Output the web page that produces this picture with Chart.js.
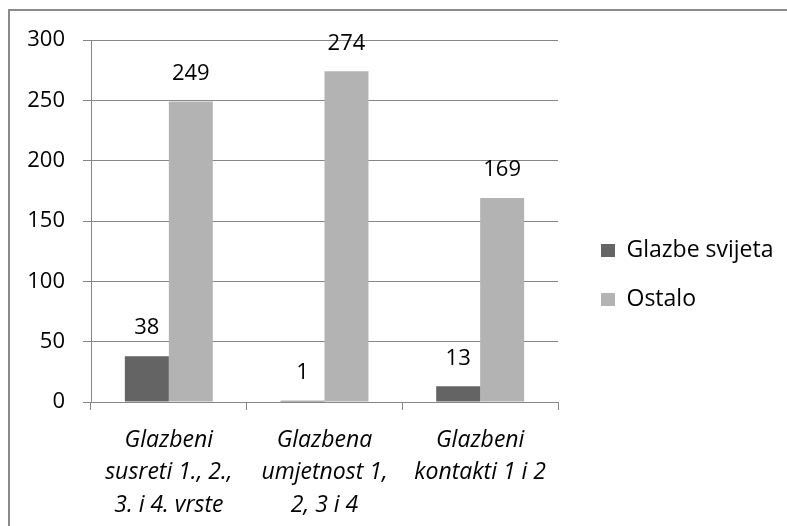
<!DOCTYPE html>
<html>
<head>
<meta charset="utf-8">
<script src="https://cdn.jsdelivr.net/npm/chart.js@4.4.3/dist/chart.umd.min.js"></script>
<style>
  html, body { margin: 0; padding: 0; background: #fff; overflow: hidden; }
  #box {
    position: absolute; left: 8px; top: 9px;
    width: 777px; height: 515px;
    border-top: 2px solid #8a8a8a;
    border-left: 2px solid #8a8a8a;
  }
</style>
</head>
<body>
<div id="box"><canvas id="chart"></canvas></div>
<script>
// categories (multi-line, as in the original)
const categories = [
    ["Glazbeni", "susreti 1., 2.,", "3. i 4. vrste"],
    ["Glazbena", "umjetnost 1,", "2, 3 i 4"],
    ["Glazbeni", "kontakti 1 i 2"]
];
const glazbeSvijeta = [38, 1, 13];
const ostalo = [249, 274, 169];
const yTicks = [0, 50, 100, 150, 200, 250, 300];

const FONT = "'Open Sans', sans-serif";
const gridColor = "#868686";

// draws the value above each bar
const valueLabels = {
    id: 'valueLabels',
    afterDatasetsDraw(chart) {
        const ctx = chart.ctx;
        ctx.save();
        ctx.font = "22px " + FONT;
        ctx.fillStyle = "#000";
        ctx.textAlign = "center";
        ctx.textBaseline = "middle";
        chart.data.datasets.forEach((ds, i) => {
            chart.getDatasetMeta(i).data.forEach((bar, j) => {
                ctx.fillText(String(ds.data[j]), bar.x, bar.y - 28);
            });
        });
        ctx.restore();
    }
};

new Chart(document.getElementById('chart'), {
    type: 'bar',
    data: {
        labels: categories,
        datasets: [
            {
                label: 'Glazbe svijeta',
                data: glazbeSvijeta,
                backgroundColor: "#646464"
            },
            {
                label: 'Ostalo',
                data: ostalo,
                backgroundColor: "#b3b3b3"
            }
        ]
    },
    options: {
        responsive: true,
        maintainAspectRatio: false,
        animation: false,
        datasets: {
            bar: { categoryPercentage: 0.565, barPercentage: 1 }
        },
        layout: {
            padding: { left: 17, top: 29, right: 12, bottom: 0 }
        },
        plugins: {
            tooltip: { enabled: false },
            legend: {
                position: 'right',
                align: 'start',
                maxWidth: 200,
                // empty title only pushes the items down to mid height
                title: {
                    display: true,
                    text: '',
                    font: { family: FONT, size: 10, lineHeight: 1 },
                    padding: { top: 163, bottom: 0 }
                },
                labels: {
                    font: { family: FONT, size: 23 },
                    color: "#000",
                    boxWidth: 14,
                    boxHeight: 13,
                    padding: 26
                }
            }
        },
        scales: {
            x: {
                grid: {
                    drawOnChartArea: false,
                    drawTicks: true,
                    tickLength: 8,
                    color: gridColor
                },
                border: { color: gridColor },
                ticks: {
                    font: { family: FONT, size: 23, style: 'italic', lineHeight: 1.413 },
                    color: "#000",
                    padding: 14,
                    maxRotation: 0
                },
                afterFit: (s) => { s.paddingLeft = 0; s.paddingRight = 0; s.height = 124; }
            },
            y: {
                min: 0,
                max: 300,
                afterBuildTicks: (axis) => { axis.ticks = yTicks.map(v => ({ value: v })); },
                grid: {
                    color: gridColor,
                    tickLength: 8
                },
                border: { color: gridColor },
                ticks: {
                    font: { family: FONT, size: 22 },
                    color: "#000",
                    padding: 18
                },
                afterFit: (s) => { s.paddingTop = 0; s.paddingBottom = 0; s.width = 64; }
            },
            // empty spacer between plot and legend
            gap: {
                position: 'right',
                grid: { display: false },
                border: { display: false },
                ticks: { display: false },
                afterFit: (s) => { s.width = 17; }
            }
        }
    },
    plugins: [valueLabels]
});
</script>
</body>
</html>
